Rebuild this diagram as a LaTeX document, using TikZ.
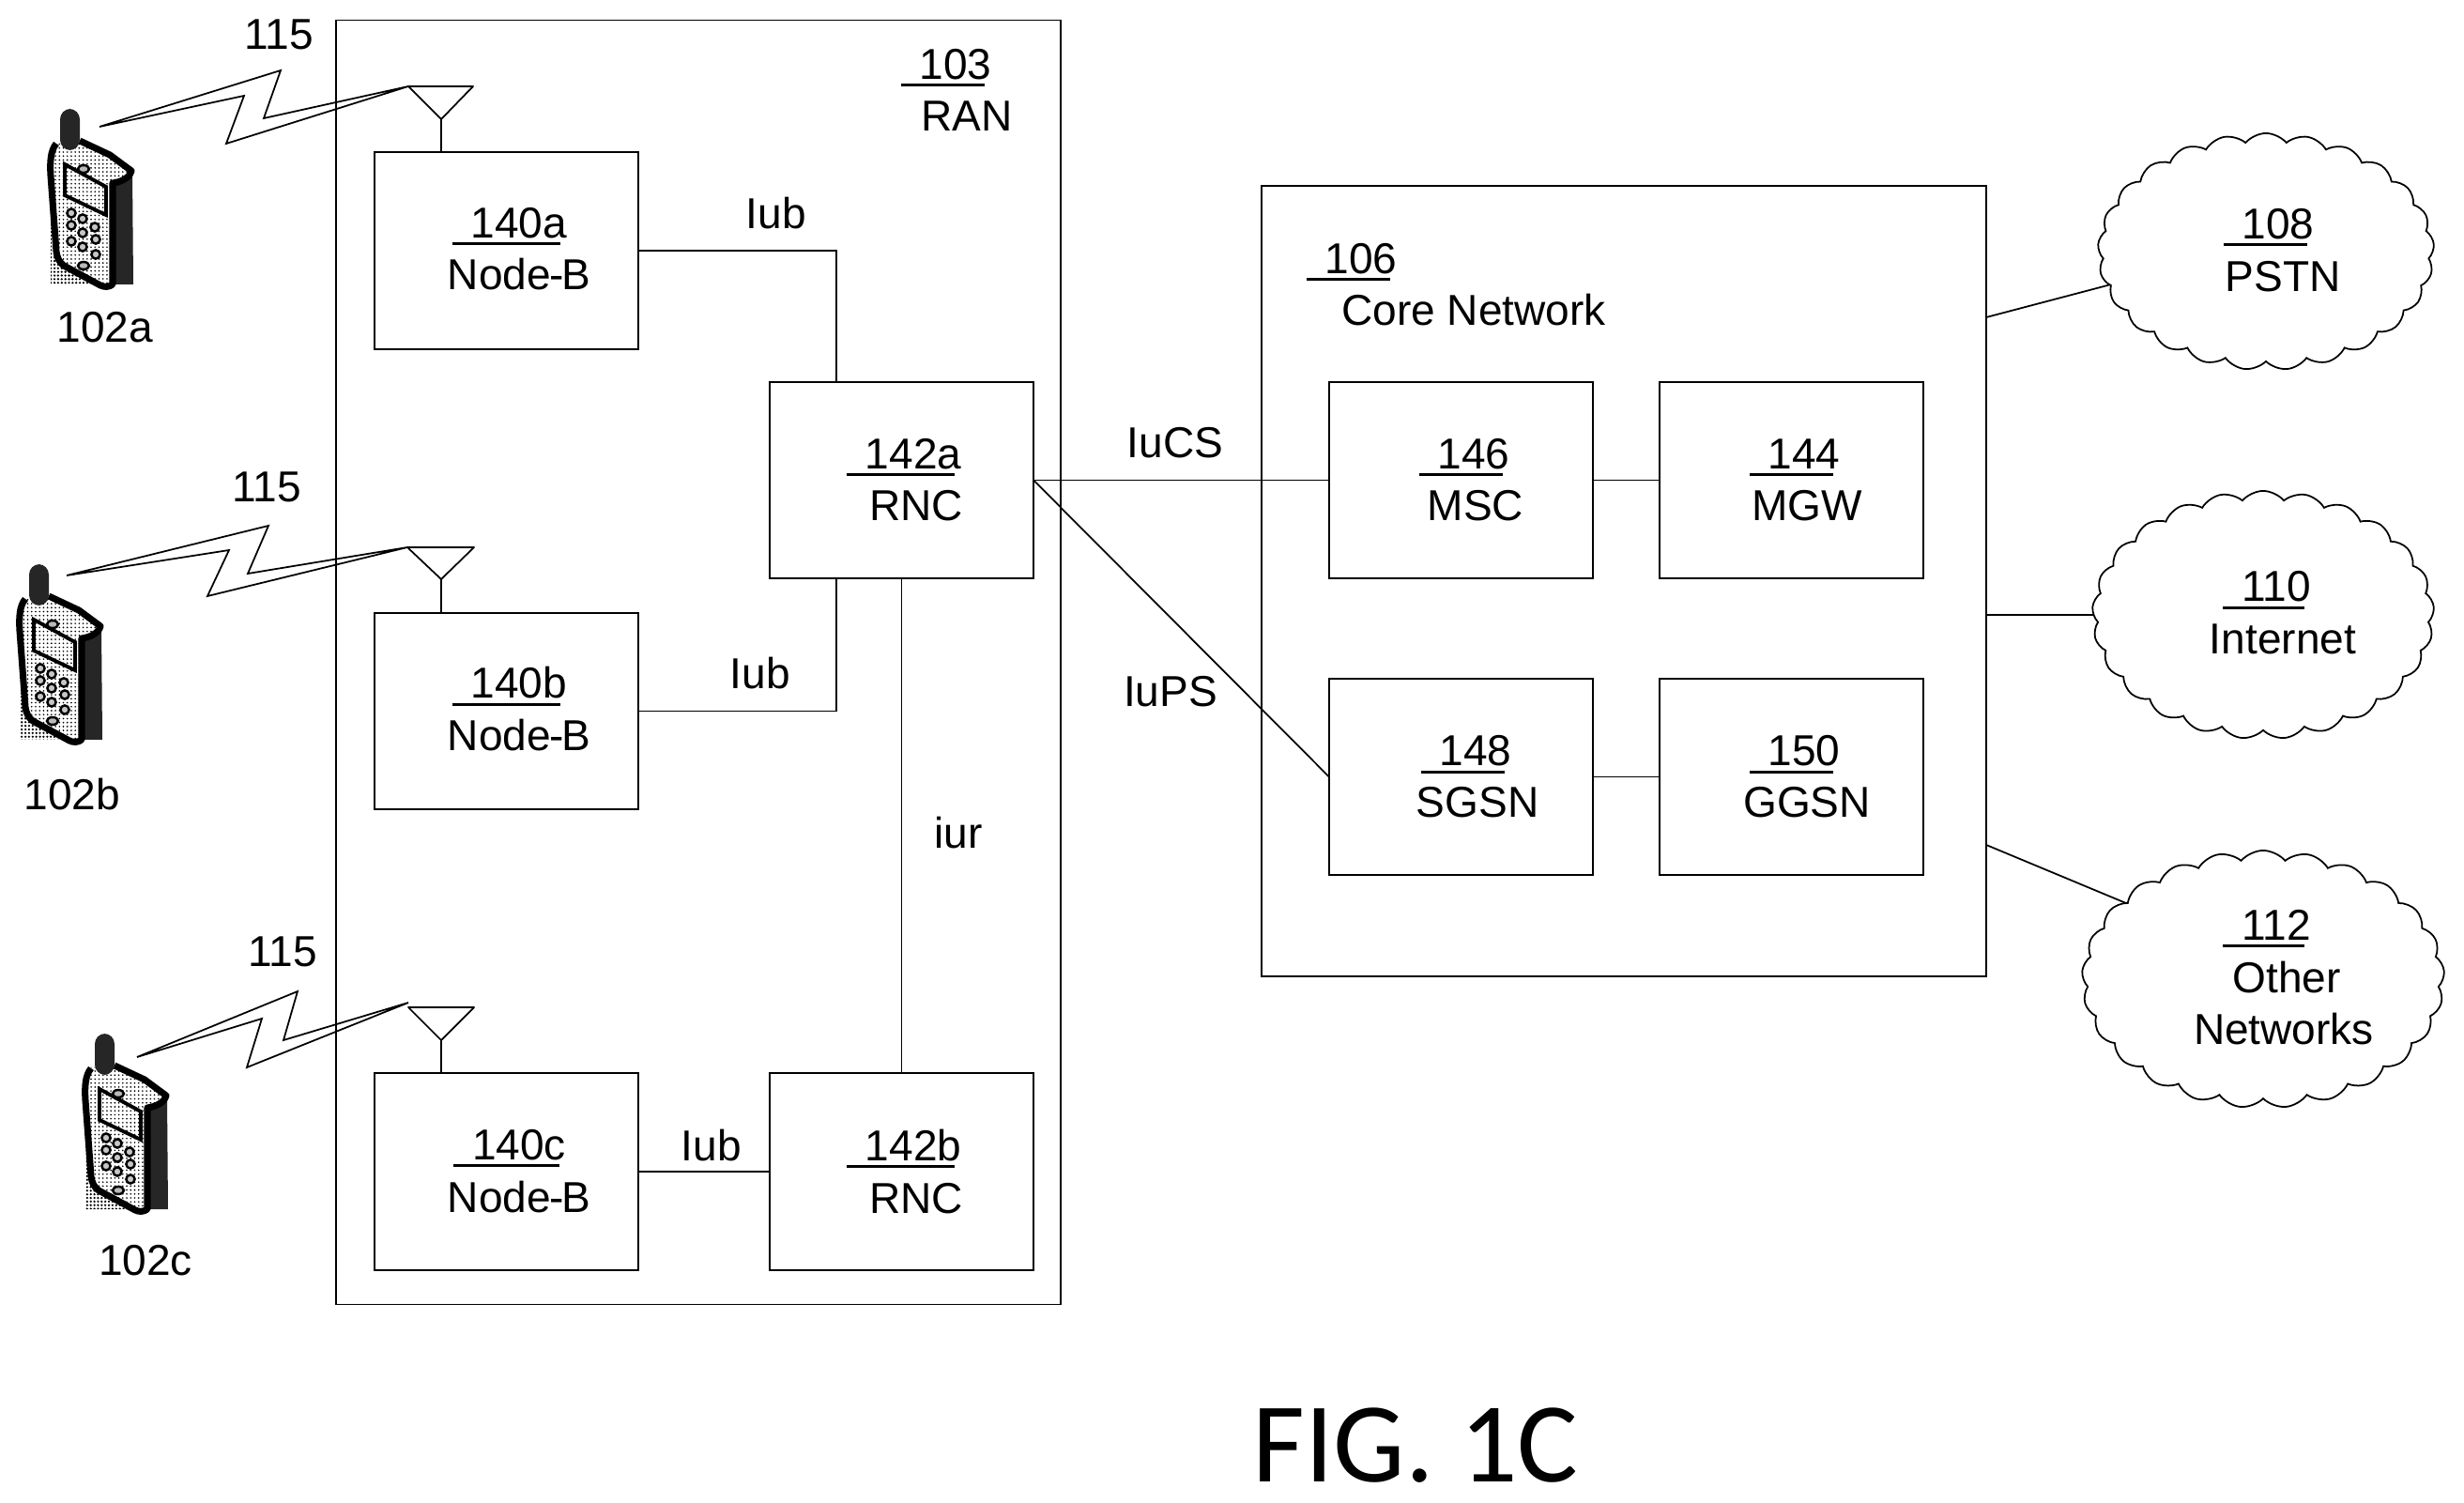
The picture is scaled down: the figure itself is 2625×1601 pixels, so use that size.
\documentclass[tikz,border=0pt]{standalone}
\usepackage{fontspec}
\setmainfont{Liberation Sans}
\newfontfamily\figfont{Carlito}
\usetikzlibrary{shapes.symbols,patterns.meta}
\newcommand{\unum}[1]{\setbox0\hbox{#1}\leavevmode\rlap{\kern-0.2cm\rule[-0.075cm]{\dimexpr\wd0+0.13cm\relax}{0.03cm}}\box0}
\newcommand{\nodeb}{Node\kern-.04em-\kern-.04em B}
\tikzset{
  x=0.01cm,y=-0.01cm,
  thinline/.style={line width=0.5pt,black},
  outerbox/.style={draw,thinline,rectangle,inner sep=0,outer sep=0,minimum width=7.72cm},
  unitbox/.style={draw,thinline,rectangle,inner sep=0,outer sep=0,minimum width=2.81cm,minimum height=2.095cm},
  netcloud/.style={draw,thinline,cloud,cloud puffs=25,cloud puff arc=100,aspect=1.4,inner sep=0,outer sep=0},
  lbl/.style={anchor=base,inner sep=0,outer sep=0,font=\fontsize{13.1}{15}\selectfont},
  figlbl/.style={anchor=base,inner sep=0,outer sep=0,font=\figfont\fontsize{34.5}{40}\selectfont},
  wire/.style={thinline},
  phone/.pic={
    % stippled shadow
    \fill[pattern={Dots[distance=1.1pt,radius=0.36pt]}] (54,235) -- (54,303) -- (108,303) -- (66,282) -- cycle;
    % body
    \fill[pattern={Dots[distance=1.2pt,radius=0.26pt]}] (58,152) -- (85,150) -- (117,165) -- (140,182) -- (120,195) -- (120,303) -- (107,305) -- (66,282) -- (53,187) -- cycle;
    % dark side
    \fill[black!85] (120,195) -- (132,192) -- (141,182) -- (142,303) -- (120,303) -- cycle;
    % outline
    \draw[line width=2pt,black,line join=round] (85,150) -- (117,165) -- (140,182) .. controls (138,190) and (128,194) .. (120,195) -- (120,303) .. controls (116,306) and (111,306) .. (107,304) -- (68,283) .. controls (63,279) and (61,275) .. (60,268) -- (54,187) .. controls (53,172) and (54,160) .. (60,153);
    % antenna
    \fill[black!85,rounded corners=1.1mm] (64,160) -- (64,116) -- (85,116) -- (85,160) -- cycle;
    % screen
    \draw[line width=1.1pt,black] (69,175) -- (113,199) -- (113,229) -- (69,208) -- cycle;
    % keys
    \foreach \kx/\ky in {76/227,88/233,101/242,76/240,88/248,102/255,76/257,88/263,102/271}
      \draw[line width=0.7pt,black,fill=gray!45] (\kx,\ky) circle[radius=4.6];
    \draw[line width=0.7pt,black,fill=gray!55] (89,283) ellipse[x radius=6,y radius=4];
    \draw[line width=0.7pt,black,fill=gray!55] (89,180) ellipse[x radius=6,y radius=4];
  }
}
\begin{document}
\begin{tikzpicture}
\useasboundingbox (0,0) rectangle (2625,1601);

% container boxes
\node[outerbox,minimum height=13.67cm] (ran) at (744,705.5) {};
\node[outerbox,minimum height=8.42cm] (core) at (1730,619) {};

% unit boxes
\node[unitbox] (n140a) at (539.5,267) {};
\node[unitbox] (n140b) at (539.5,757.5) {};
\node[unitbox] (n140c) at (539.5,1248) {};
\node[unitbox] (n142a) at (960.5,511.5) {};
\node[unitbox] (n142b) at (960.5,1248) {};
\node[unitbox] (n146) at (1556.5,511.5) {};
\node[unitbox] (n144) at (1908.5,511.5) {};
\node[unitbox] (n148) at (1556.5,827.5) {};
\node[unitbox] (n150) at (1908.5,827.5) {};

% clouds
\node[netcloud,minimum width=3.58cm,minimum height=2.52cm] (c108) at (2414,268) {};
\node[netcloud,minimum width=3.64cm,minimum height=2.64cm] (c110) at (2411,655) {};
\node[netcloud,minimum width=3.86cm,minimum height=2.74cm] (c112) at (2411,1043) {};

% connector helpers
\coordinate (j1) at (891,407);
\coordinate (j2) at (891,616);
\coordinate (p108) at (2116,338);
\coordinate (p110) at (2116,655);
\coordinate (p112) at (2116,900);

% connectors
\draw[wire] (n140a.east) -| (j1);
\draw[wire] (n140b.east) -| (j2);
\draw[wire] (n140c.east) -- (n142b.west);
\draw[wire] (n142a.south) -- (n142b.north);
\draw[wire] (n142a.east) -- (n146.west);
\draw[wire] (n142a.east) -- (n148.west);
\draw[wire] (n146.east) -- (n144.west);
\draw[wire] (n148.east) -- (n150.west);
\draw[wire] (p108) -- (c108.192);
\draw[wire] (p110) -- (c110.180);
\draw[wire] (p112) -- (c112.151);

% antennas
\coordinate (tipa) at (470,127);
\coordinate (tipb) at (470,617);
\coordinate (tipc) at (470,1108);
\coordinate (feeda) at (470,162);
\coordinate (feedb) at (470,652.5);
\coordinate (feedc) at (470,1143);
\draw[wire,line join=round] (435,92) -- (504,92) -- (tipa) -- cycle;
\draw[wire] (tipa) -- (feeda);
\draw[wire,line join=round] (434,583) -- (505,583) -- (tipb) -- cycle;
\draw[wire] (tipb) -- (feedb);
\draw[wire,line join=round] (435,1073) -- (505,1073) -- (tipc) -- cycle;
\draw[wire] (tipc) -- (feedc);

% radio links
\draw[wire,line join=miter] (106,135) -- (299,75) -- (281,126) -- (435,92) -- (241,153) -- (260,102) -- cycle;
\draw[wire,line join=miter] (71,613) -- (286,560) -- (264,611) -- (434,583) -- (221,635) -- (244,586) -- cycle;
\draw[wire,line join=miter] (146,1126) -- (317,1056) -- (302,1108) -- (435,1068) -- (263,1137) -- (279,1085) -- cycle;

% phones
\pic at (0,0) {phone};
\pic at (-33,485) {phone};
\pic at (37,985) {phone};

% labels
\node[lbl] (l115a) at (297,53) {115};
\node[lbl] (l115b) at (284,535) {115};
\node[lbl] (l115c) at (301,1029) {115};
\node[lbl] (l102a) at (112,365) {102a};
\node[lbl] (l102b) at (77,862) {102b};
\node[lbl] (l102c) at (155,1358) {102c};

\node[lbl] (t103) at (1018,85) {\unum{103}};
\node[lbl] (tran) at (1030,140) {RAN};
\node[lbl] (t106) at (1450,292) {\unum{106}};
\node[lbl] (tcore) at (1570,347) {Core Network};

\node[lbl] (t140a) at (553,254) {\unum{140a}};
\node[lbl] (b140a) at (553,309) {\nodeb};
\node[lbl] (t140b) at (553,744) {\unum{140b}};
\node[lbl] (b140b) at (553,799) {\nodeb};
\node[lbl] (t140c) at (553,1235) {\unum{140c}};
\node[lbl] (b140c) at (553,1291) {\nodeb};
\node[lbl] (t142a) at (973,500) {\unum{142a}};
\node[lbl] (b142a) at (976,555) {RNC};
\node[lbl] (t142b) at (973,1236) {\unum{142b}};
\node[lbl] (b142b) at (976,1292) {RNC};
\node[lbl] (t146) at (1570,500) {\unum{146}};
\node[lbl] (b146) at (1572,555) {MSC};
\node[lbl] (t144) at (1922,500) {\unum{144}};
\node[lbl] (b144) at (1925,555) {MGW};
\node[lbl] (t148) at (1572,816) {\unum{148}};
\node[lbl] (b148) at (1574,870) {SGSN};
\node[lbl] (t150) at (1922,816) {\unum{150}};
\node[lbl] (b150) at (1925,870) {GGSN};

\node[lbl] (t108) at (2427,255) {\unum{108}};
\node[lbl] (b108) at (2432,311) {PSTN};
\node[lbl] (t110) at (2425,641) {\unum{110}};
\node[lbl] (b110) at (2432,697) {Internet};
\node[lbl] (t112) at (2425,1001) {\unum{112}};
\node[lbl] (b112a) at (2436,1057) {Other};
\node[lbl] (b112b) at (2433,1112) {Networks};

\node[lbl] (iub1) at (827,244) {Iub};
\node[lbl] (iub2) at (810,734) {Iub};
\node[lbl] (iub3) at (758,1236) {Iub};
\node[lbl] (iucs) at (1252,488) {IuCS};
\node[lbl] (iups) at (1247,753) {IuPS};
\node[lbl] (iur) at (1021,903) {iur};

\node[figlbl] (fig) at (1508,1578) {FIG. 1C};
\end{tikzpicture}
\end{document}
